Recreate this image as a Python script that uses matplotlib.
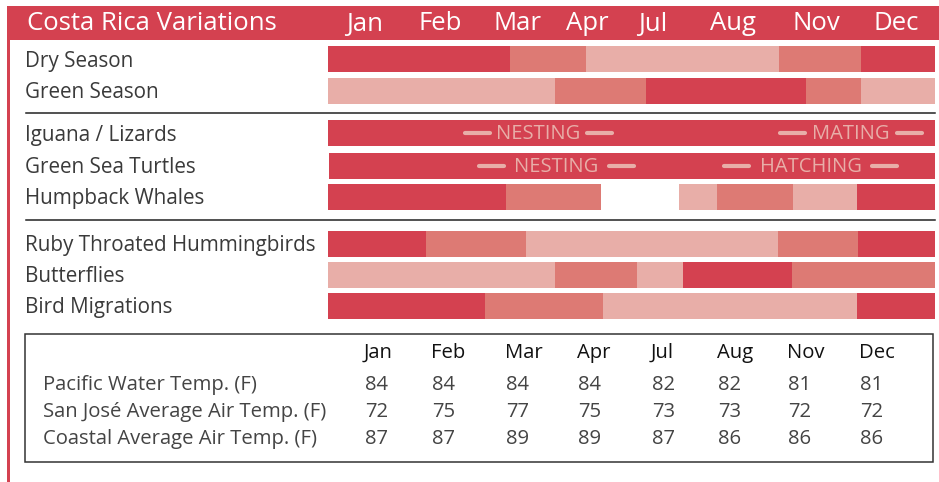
import matplotlib.pyplot as plt
from matplotlib.patches import Rectangle

plt.rcParams['font.family'] = ['Open Sans', 'DejaVu Sans']

# Data
months = ["Jan", "Feb", "Mar", "Apr", "Jul", "Aug", "Nov", "Dec"]
rows = ["Dry Season", "Green Season", "Iguana / Lizards", "Green Sea Turtles",
        "Humpback Whales", "Ruby Throated Hummingbirds", "Butterflies", "Bird Migrations"]

# segment edges (in month columns) and intensity (0 none, 1 low, 2 mid, 3 high)
edges = {
    "Dry Season": [0, 2.40, 3.40, 5.94, 7.02, 8],
    "Green Season": [0, 2.99, 4.19, 6.30, 7.02, 8],
    "Iguana / Lizards": [0, 8],
    "Green Sea Turtles": [0.01, 8],
    "Humpback Whales": [0, 2.35, 3.60, 4.63, 5.13, 6.13, 6.97, 8],
    "Ruby Throated Hummingbirds": [0, 1.29, 2.61, 5.93, 6.99, 8],
    "Butterflies": [0, 2.99, 4.07, 4.68, 6.12, 8],
    "Bird Migrations": [0, 2.07, 3.62, 6.97, 8],
}
levels = {
    "Dry Season": [3, 2, 1, 2, 3],
    "Green Season": [1, 2, 3, 2, 1],
    "Iguana / Lizards": [3],
    "Green Sea Turtles": [3],
    "Humpback Whales": [3, 2, 0, 1, 2, 1, 3],
    "Ruby Throated Hummingbirds": [3, 2, 1, 2, 3],
    "Butterflies": [1, 2, 1, 3, 2],
    "Bird Migrations": [3, 2, 1, 3],
}
notes = [
    ("Iguana / Lizards", 1.81, 3.74, "NESTING"),
    ("Iguana / Lizards", 5.96, 7.83, "MATING"),
    ("Green Sea Turtles", 1.99, 4.03, "NESTING"),
    ("Green Sea Turtles", 5.22, 7.50, "HATCHING"),
]

temp_labels = ["Pacific Water Temp. (F)", "San José Average Air Temp. (F)",
               "Coastal Average Air Temp. (F)"]
pacific = [84, 84, 84, 84, 82, 82, 81, 81]
san_jose = [72, 75, 77, 75, 73, 73, 72, 72]
coastal = [87, 87, 89, 89, 87, 86, 86, 86]

# Layout (pixels)
W, H = 939, 482
RED = "#d44150"
MID = "#dd7a74"
LIGHT = "#e8aea8"
shade = {1: LIGHT, 2: MID, 3: RED}
row_y = [59, 91, 133, 165.5, 196.5, 243.5, 274.5, 306]
bar_h = 26
head_x = [365, 440, 517, 587, 653, 733, 816, 896]
col_x = [364, 431, 505, 577, 651, 717, 787, 859]

fig = plt.figure(figsize=(W / 100, H / 100), dpi=100)
ax = fig.add_axes([0, 0, 1, 1])
ax.set_xlim(0, W)
ax.set_ylim(H, 0)
ax.axis('off')

bx = fig.add_axes([328 / W, 0, 607 / W, 1])
bx.set_xlim(0, 8)
bx.set_ylim(H, 0)
bx.axis('off')

# header bar and left rule
ax.add_patch(Rectangle((7, 6), W - 7, 34, color=RED, lw=0))
ax.add_patch(Rectangle((7, 6), 3, H - 6, color=RED, lw=0))
ax.text(27, 24, "Costa Rica Variations", color="white", fontsize=18.5,
        va="center")
for x, m in zip(head_x, months):
    ax.text(x, 24, m, color="white", fontsize=18.5, ha="center", va="center")

# rows
for name, y in zip(rows, row_y):
    ax.text(25, y + 2, name, color="#3a3a3a", fontsize=14.9, va="center")
    e = edges[name]
    for a, b, lv in zip(e[:-1], e[1:], levels[name]):
        if lv:
            bx.barh(y, b - a, left=a, height=bar_h, color=shade[lv], lw=0)

for name, a, b, txt in notes:
    y = row_y[rows.index(name)]
    bx.text((a + b) / 2, y + 1, txt, color=LIGHT, fontsize=14.5,
            ha="center", va="center")
    for s in (a, b - 0.33):
        bx.plot([s, s + 0.33], [y, y], color=LIGHT, lw=3,
                solid_capstyle="round")

# separators
for y in (113, 220):
    ax.plot([26, 935], [y, y], color="#222222", lw=1.1)

# temperature table
ax.add_patch(Rectangle((25, 334), 908, 128, fill=False, ec="#333333", lw=1.1))
for x, m in zip(col_x, months):
    ax.text(x, 353, m, color="#111111", fontsize=14.6, va="center")
for lab, vals, y in zip(temp_labels, [pacific, san_jose, coastal], [384, 411, 438]):
    ax.text(43, y + 1, lab, color="#444444", fontsize=14.6, va="center")
    for x, v in zip(col_x, vals):
        ax.text(x + 1, y + 1, str(v), color="#444444", fontsize=14.6,
                va="center")

fig.savefig("out.png", dpi=100)
